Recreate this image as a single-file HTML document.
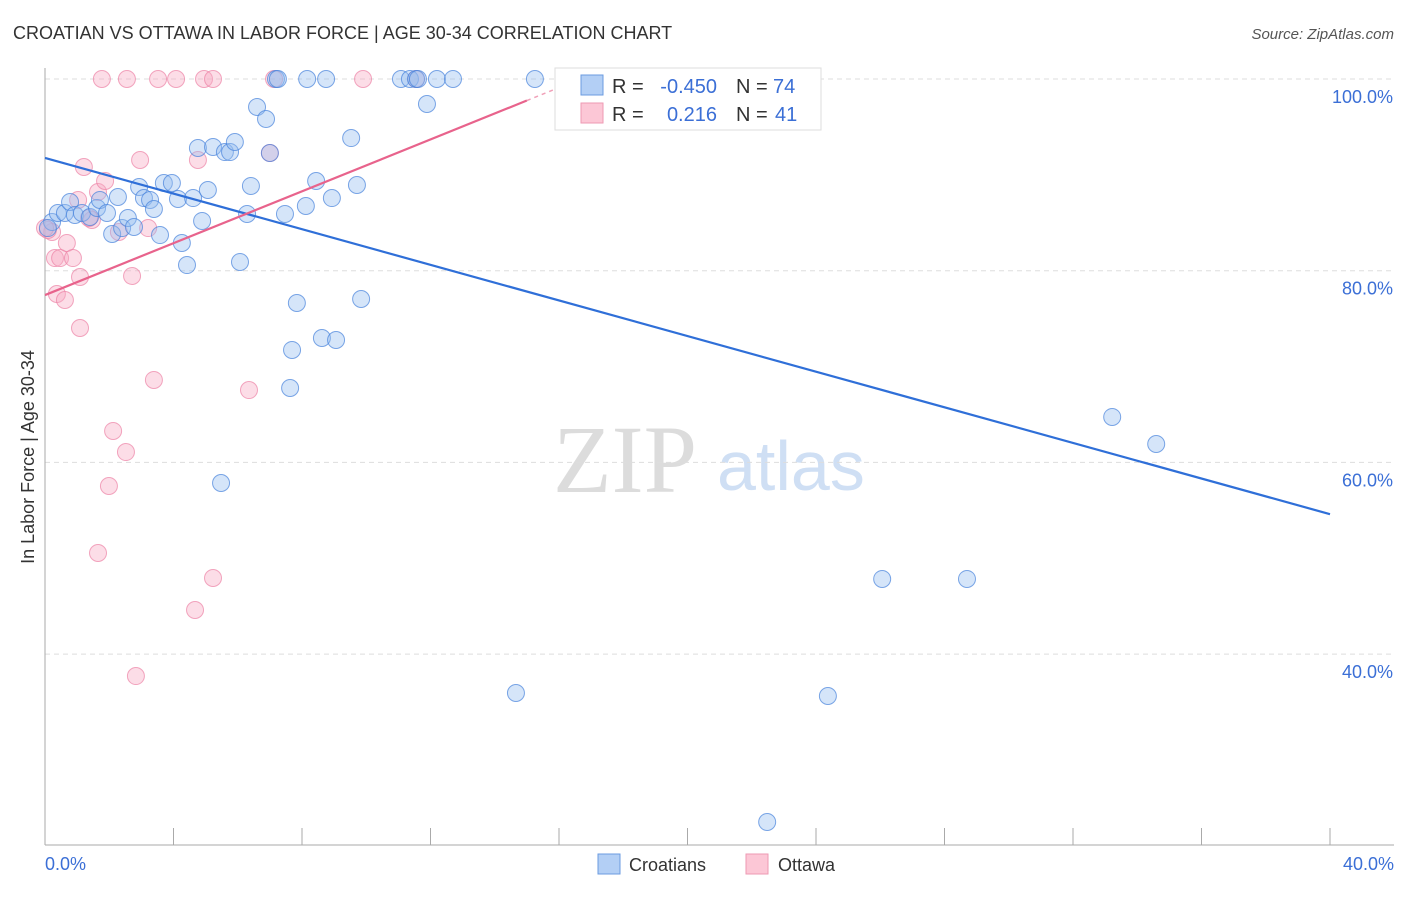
<!DOCTYPE html>
<html><head><meta charset="utf-8"><style>
body{margin:0;background:#fff;width:1406px;height:892px;overflow:hidden;font-family:"Liberation Sans",sans-serif}
</style></head><body>
<svg id="chart" width="1406" height="892" xmlns="http://www.w3.org/2000/svg" font-family="Liberation Sans, sans-serif">
<text x="13" y="39" font-size="18" fill="#333">CROATIAN VS OTTAWA IN LABOR FORCE | AGE 30-34 CORRELATION CHART</text>
<text x="1394" y="39" font-size="15" fill="#555" text-anchor="end" font-style="italic">Source: ZipAtlas.com</text>
<text x="553" y="492" font-size="96" font-family="Liberation Serif, serif" fill="#dcdcdc">ZIP</text>
<text x="717" y="490" font-size="70" fill="#cfdff4">atlas</text>
<text transform="translate(34,457) rotate(-90)" font-size="18" fill="#333" text-anchor="middle">In Labor Force | Age 30-34</text>
<g id="grid"></g><g id="axes"></g><g id="pts"></g><g id="lines"></g>
<g>
<rect x="555" y="68" width="266" height="62" fill="#fff" stroke="#ddd"/>
<rect x="581" y="75" width="22" height="20" fill="#b3cff5" stroke="#6b9be0"/>
<rect x="581" y="103" width="22" height="20" fill="#fcc7d6" stroke="#ee9ab3"/>
<text x="612" y="93" font-size="20" fill="#333">R = </text><text x="717" y="93" font-size="20" fill="#3b6fd6" text-anchor="end">-0.450</text>
<text x="736" y="93" font-size="20" fill="#333">N = </text><text x="773" y="93" font-size="20" fill="#3b6fd6">74</text>
<text x="612" y="121" font-size="20" fill="#333">R = </text><text x="717" y="121" font-size="20" fill="#3b6fd6" text-anchor="end">0.216</text>
<text x="736" y="121" font-size="20" fill="#333">N = </text><text x="775" y="121" font-size="20" fill="#3b6fd6">41</text>
</g>
<g>
<rect x="598" y="854" width="22" height="20" fill="#b3cff5" stroke="#6b9be0"/>
<text x="629" y="871" font-size="18" fill="#333">Croatians</text>
<rect x="746" y="854" width="22" height="20" fill="#fcc7d6" stroke="#ee9ab3"/>
<text x="778" y="871" font-size="18" fill="#333">Ottawa</text>
</g>
</svg>
<script>
const yTicks=[100,80,60,40];
const yTickLabels=["100.0%","80.0%","60.0%","40.0%"];
const xTickLabels=["0.0%","40.0%"];
const blueX=[0.22,0.40,0.62,0.78,0.93,1.15,1.40,1.62,1.71,1.93,2.09,2.27,2.40,2.58,2.77,2.93,3.08,3.27,3.39,3.58,3.70,3.95,4.14,4.26,4.42,4.61,4.76,4.89,5.07,5.23,5.60,5.76,5.91,6.07,6.29,6.41,6.60,6.88,7.00,7.19,7.25,7.47,7.84,7.69,7.63,8.12,8.16,8.44,8.62,8.75,8.93,9.06,9.53,9.71,9.84,11.08,11.36,11.55,11.61,11.89,12.20,12.70,15.25,14.66,17.37,22.48,23.19,24.37,26.06,28.70,33.22,34.59,5.48,0.09];
const blueY=[85.08,86.02,86.02,87.17,85.81,86.02,85.60,86.54,87.38,86.02,83.83,87.69,84.45,85.50,84.56,88.73,87.58,87.38,86.44,83.72,89.15,89.15,87.48,82.89,80.59,87.58,92.80,85.19,88.42,92.91,92.38,92.38,93.43,80.91,85.92,88.84,97.08,95.83,92.28,100,100,85.92,76.63,71.73,67.76,86.75,100,89.36,72.98,100,87.58,72.77,93.84,88.94,77.05,100,100,100,100,97.39,100,100,100,35.94,100,22.48,100,35.63,47.84,47.84,64.74,61.92,57.85,84.45];
const pinkX=[1.77,2.55,3.52,4.08,4.95,5.23,7.13,9.90,11.55,0.22,0.31,0.47,0.68,0.87,0.37,0.62,1.09,1.21,1.09,1.03,1.65,1.87,1.46,2.96,2.30,3.21,2.71,3.39,4.76,7.00,6.35,2.12,2.52,1.99,1.65,5.23,4.67,2.83,0.09,1.37,0];
const pinkY=[100,100,100,100,100,100,100,100,100,84.04,81.32,81.32,82.89,81.32,77.57,76.94,74.02,90.82,79.34,87.38,88.21,89.36,85.29,91.55,84.04,84.45,79.45,68.60,91.55,92.28,67.55,63.28,61.08,57.54,50.55,47.94,44.60,37.71,84.25,85.50,84.45];
const blueTrend=[91.76,54.6];
const pinkTrend=[77.46,1.353];
const NS="http://www.w3.org/2000/svg";
const X=v=>45+v/40*1285, Y=v=>79+(100-v)/20*191.7;
function mk(tag,attrs,parent){const e=document.createElementNS(NS,tag);for(const k in attrs)e.setAttribute(k,attrs[k]);document.getElementById(parent).appendChild(e);return e;}
yTicks.forEach((t,i)=>{
 const g=mk('line',{x1:45,x2:1394,y1:Y(t),y2:Y(t),stroke:'#ddd','stroke-dasharray':'5,4'},'grid');
 
 
 const tx=mk('text',{x:1393,y:Y(t)+24,'font-size':18,fill:'#3b6fd6','text-anchor':'end'},'grid');
 tx.textContent=yTickLabels[i];
 
 
});
const ax=mk('line',{x1:45,x2:45,y1:68,y2:845,stroke:'#aaa'},'axes');


const bx=mk('line',{x1:45,x2:1394,y1:845,y2:845,stroke:'#aaa'},'axes');


for(let i=0;i<=10;i++){const t=mk('line',{x1:X(i*4),x2:X(i*4),y1:828,y2:845,stroke:'#aaa'},'axes');
 
 }
[[0,'start',45],[40,'end',1394]].forEach((d,i)=>{const t=mk('text',{x:d[2],y:870,'font-size':18,fill:'#3b6fd6','text-anchor':d[1]},'axes');t.textContent=xTickLabels[i];
 
 });
pinkX.forEach((x,i)=>{const c=mk('circle',{cx:X(x),cy:Y(pinkY[i]),r:8.5,fill:'rgba(248,170,195,0.4)',stroke:'rgba(236,130,165,0.7)'},'pts');
 
 });
blueX.forEach((x,i)=>{const c=mk('circle',{cx:X(x),cy:Y(blueY[i]),r:8.5,fill:'rgba(150,190,240,0.4)',stroke:'rgba(70,130,220,0.7)'},'pts');
 
 });
const bl=mk('line',{x1:X(0),y1:Y(blueTrend[0]),x2:X(40),y2:Y(blueTrend[1]),stroke:'#2f6fd8','stroke-width':2.2},'lines');


const pl=mk('line',{x1:X(0),y1:Y(pinkTrend[0]),x2:X(15),y2:Y(pinkTrend[0]+pinkTrend[1]*15),stroke:'#e8638c','stroke-width':2.2},'lines');


const pd=mk('line',{x1:X(15),y1:Y(pinkTrend[0]+pinkTrend[1]*15),x2:X(16.3),y2:Y(pinkTrend[0]+pinkTrend[1]*16.3),stroke:'#f0a0b8','stroke-width':1.5,'stroke-dasharray':'4,4'},'lines');


</script>
</body></html>
